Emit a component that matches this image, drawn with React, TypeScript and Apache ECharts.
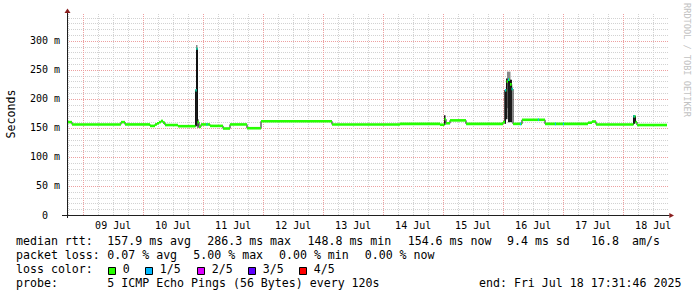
import React, { useEffect, useRef } from 'react';
import * as echarts from 'echarts';

// ---- time axis: hours since 2025-07-08 00:00 ----
const X_MIN = 17 + 31 / 60 + 46 / 3600;
const X_MAX = X_MIN + 240;
const Y_MAX = 348;

const dayLabels = ['09 Jul', '10 Jul', '11 Jul', '12 Jul', '13 Jul', '14 Jul', '15 Jul', '16 Jul', '17 Jul', '18 Jul'];
const dayLabelHours = [36, 60, 84, 108, 132, 156, 180, 204, 228, 252];
const yTickValues = [0, 50, 100, 150, 200, 250, 300];

// median rtt (ms), step series: value holds from hour[i] until hour[i+1]
const medianHours = [17.53, 19.53, 39.13, 40.73, 50.73, 52.73, 53.53, 54.33, 55.13, 55.93, 56.73, 61.93, 68.93, 69.33, 69.73, 70.33, 71.13, 74.73, 79.93, 82.73, 89.53, 95.13, 123.53, 150.73, 166.73, 168.53, 169.13, 170.73, 177.13, 191.93, 192.73, 193.33, 193.93, 194.73, 195.41, 195.93, 199.53, 208.73, 225.93, 227.53, 229.13, 244.13, 244.93, 245.53];
const medianMs = [160, 156, 160, 156, 153.5, 156, 158, 160, 162, 159, 155, 153, 215, 286.3, 160, 152, 156, 153.5, 149, 156, 149.5, 161.5, 156, 157, 155.5, 165, 158, 163, 157, 160, 215, 230, 233, 225, 217, 157, 164, 157, 159, 161, 156, 170, 160, 155];

// columns with 1/5 packet loss: start hour, end hour, median
const lossStart = [68.93, 69.33, 73.3, 192.73, 193.93, 195.41, 198.7, 205.9, 212.7, 215.9, 244.13];
const lossEnd = [69.33, 69.73, 73.7, 193.13, 194.33, 195.81, 199.1, 206.3, 213.1, 216.3, 244.53];
const lossMs = [215, 286.3, 156, 215, 233, 217, 157, 164, 157, 157, 170];

// smoke (ping spread) columns
const smokeStart = [68.73, 69.13, 69.13, 69.73, 168.33, 192.53, 193.53, 193.13, 193.93, 244.0];
const smokeEnd = [69.13, 69.73, 69.73, 70.13, 168.93, 193.13, 194.93, 193.73, 195.53, 244.8];
const smokeLow = [153, 153, 275, 150, 155, 157, 184, 165, 160, 157];
const smokeHigh = [215, 275, 293, 165, 172, 215, 247, 235, 233, 172];
const smokeShade = [0, 0, 1, 0, 0, 0, 1, 0, 0, 0];

// legend
const rttLabel = 'median rtt:';
const rttStats = ['157.9 ms avg', '286.3 ms max', '148.8 ms min', '154.6 ms now', '9.4 ms sd', '16.8', 'am/s'];
const lossLabel = 'packet loss:';
const lossStats = ['0.07 % avg', '5.00 % max', '0.00 % min', '0.00 % now'];
const colorLabel = 'loss color:';
const lossColorNames = ['0', '1/5', '2/5', '3/5', '4/5'];
const lossColors = ['#26ff00', '#00b8ff', '#dd00ff', '#5e00ff', '#ff0000'];
const probeLabel = 'probe:';
const probeText = '5 ICMP Echo Pings (56 Bytes) every 120s';
const endText = 'end: Fri Jul 18 17:31:46 2025';
const yAxisTitle = 'Seconds';
const watermark = 'RRDTOOL / TOBI OETIKER';

// layout (pixels)
const rttX = [107.3, 207.3, 307.5, 407.7, 507, 591, 632];
const lossX = [107.3, 193.3, 279, 364.7];
const boxX = [108.5, 145.5, 197.5, 248.5, 299.5];
const lineY = [240.5, 254.6, 268.7, 282.8];

const MONO = 'DejaVu Sans Mono';
const GRID_GREY = '#d2d2d2';
const GRID_RED = '#eda0a0';
const GREEN = lossColors[0];
const BLUE = lossColors[1];

function buildOption() {
  const gridItems: any[] = [];
  for (let v = 10; v < Y_MAX; v += 10) gridItems.push([0, v]);
  for (let h = 18; h < X_MAX; h += 6) gridItems.push([1, h]);

  const stepData = medianHours.map((h, i) => [h, medianMs[i]]);
  stepData.push([X_MAX, medianMs[medianMs.length - 1]]);
  const bandData = medianHours.map((h, i) => [h, i + 1 < medianHours.length ? medianHours[i + 1] : X_MAX, medianMs[i]]);
  const lossData = lossStart.map((s, i) => [s, lossEnd[i], lossMs[i]]);
  const smokeData = smokeStart.map((s, i) => [s, smokeEnd[i], smokeLow[i], smokeHigh[i], smokeShade[i]]);
  const labelData = dayLabelHours.map((h, i) => [h, 0, i]);

  const graphic: any[] = [];
  const txt = (x: number, y: number, text: string) => ({
    type: 'text', x, y, silent: true,
    style: { text, fontFamily: MONO, fontSize: 11.6, fill: '#000', verticalAlign: 'middle', align: 'left' },
  });
  graphic.push(txt(16, lineY[0], rttLabel));
  rttStats.forEach((s, i) => graphic.push(txt(rttX[i], lineY[0], s)));
  graphic.push(txt(16, lineY[1], lossLabel));
  lossStats.forEach((s, i) => graphic.push(txt(lossX[i], lineY[1], s)));
  graphic.push(txt(16, lineY[2], colorLabel));
  lossColorNames.forEach((s, i) => {
    graphic.push({
      type: 'rect', silent: true,
      shape: { x: boxX[i], y: lineY[2] - 1.2, width: 7, height: 7 },
      style: { fill: lossColors[i], stroke: '#000', lineWidth: 1 },
    });
    graphic.push(txt(boxX[i] + 14.3, lineY[2], s));
  });
  graphic.push(txt(16, lineY[3], probeLabel));
  graphic.push(txt(107.3, lineY[3], probeText));
  graphic.push(txt(479, lineY[3], endText));
  graphic.push({
    type: 'text', x: 11, y: 114, rotation: Math.PI / 2, silent: true,
    style: { text: yAxisTitle, fontFamily: MONO, fontSize: 11.6, fill: '#000', align: 'center', verticalAlign: 'middle' },
  });
  graphic.push({
    type: 'text', x: 687, y: 60, rotation: -Math.PI / 2, silent: true,
    style: { text: watermark, fontFamily: MONO, fontSize: 8.6, fill: '#c2c2c2', align: 'center', verticalAlign: 'middle' },
  });

  return {
    animation: false,
    backgroundColor: '#ffffff',
    grid: { left: 67, top: 13, width: 600, height: 202, containLabel: false },
    xAxis: {
      type: 'value', min: X_MIN, max: X_MAX,
      axisLine: { show: false }, axisTick: { show: false }, axisLabel: { show: false }, splitLine: { show: false },
    },
    yAxis: {
      type: 'value', min: 0, max: Y_MAX, interval: 10,
      axisLine: { show: false }, axisTick: { show: false }, splitLine: { show: false },
      axisLabel: {
        margin: 7, fontFamily: MONO, fontSize: 10, color: '#000',
        formatter: (v: number) => {
          if (!yTickValues.includes(v)) return '';
          if (v === 0) return '{z|0}';
          return v + ' m';
        },
        rich: { z: { fontFamily: MONO, fontSize: 10, color: '#000', padding: [0, 12, 0, 0] } },
      },
    },
    graphic,
    series: [
      {
        type: 'custom', name: 'grid', z: 1, silent: true, data: gridItems,
        renderItem: (params: any, api: any) => {
          const dir = api.value(0);
          const v = api.value(1);
          if (dir === 0) {
            const a = api.coord([X_MIN, v]);
            const b = api.coord([X_MAX, v]);
            const y = Math.round(a[1]) + 0.5;
            return {
              type: 'line', shape: { x1: a[0], y1: y, x2: b[0] + 2, y2: y },
              style: { stroke: v % 50 === 0 ? GRID_RED : GRID_GREY, lineWidth: 1, lineDash: [1, 1] },
            };
          }
          const a = api.coord([v, 0]);
          const b = api.coord([v, Y_MAX]);
          const x = Math.round(a[0]) + 0.5;
          return {
            type: 'line', shape: { x1: x, y1: a[1], x2: x, y2: b[1] },
            style: { stroke: v % 24 === 0 ? GRID_RED : GRID_GREY, lineWidth: 1, lineDash: [1, 1] },
          };
        },
      },
      {
        type: 'custom', name: 'smoke', z: 2, silent: true, data: smokeData,
        renderItem: (params: any, api: any) => {
          const a = api.coord([api.value(0), api.value(3)]);
          const b = api.coord([api.value(1), api.value(2)]);
          return {
            type: 'rect', shape: { x: a[0], y: a[1], width: b[0] - a[0], height: b[1] - a[1] },
            style: { fill: api.value(4) === 1 ? '#8a8a8a' : '#1c1c1c' },
          };
        },
      },
      {
        type: 'line', name: 'median edges', z: 3, silent: true, step: 'end', symbol: 'none',
        data: stepData, lineStyle: { color: '#111', width: 1 },
      },
      {
        type: 'custom', name: 'median', z: 4, silent: true, data: bandData,
        renderItem: (params: any, api: any) => {
          const a = api.coord([api.value(0), api.value(2)]);
          const b = api.coord([api.value(1), api.value(2)]);
          return { type: 'rect', shape: { x: a[0], y: a[1] - 1.3, width: b[0] - a[0], height: 2.6 }, style: { fill: GREEN } };
        },
      },
      {
        type: 'custom', name: 'loss 1/5', z: 5, silent: true, data: lossData,
        renderItem: (params: any, api: any) => {
          const a = api.coord([api.value(0), api.value(2)]);
          const b = api.coord([api.value(1), api.value(2)]);
          return { type: 'rect', shape: { x: a[0], y: a[1] - 1.3, width: b[0] - a[0], height: 2.6 }, style: { fill: BLUE } };
        },
      },
      {
        type: 'custom', name: 'day labels', z: 6, silent: true, data: labelData,
        renderItem: (params: any, api: any) => {
          const p = api.coord([api.value(0), 0]);
          return {
            type: 'text', x: p[0], y: p[1] + 10.3,
            style: { text: dayLabels[api.value(2)], fontFamily: MONO, fontSize: 10, fill: '#000', align: 'center', verticalAlign: 'middle' },
          };
        },
      },
      {
        type: 'custom', name: 'axes', z: 7, silent: true, data: [[X_MIN, X_MAX]],
        renderItem: (params: any, api: any) => {
          const o = api.coord([X_MIN, 0]);
          const r = api.coord([X_MAX, 0]);
          const t = api.coord([X_MIN, Y_MAX]);
          const ox = Math.round(o[0]) + 0.5;
          const oy = Math.round(o[1]) + 0.5;
          return {
            type: 'group',
            children: [
              { type: 'line', shape: { x1: o[0] - 5, y1: oy, x2: r[0] + 2.5, y2: oy }, style: { stroke: '#1f1f1f', lineWidth: 1 } },
              { type: 'line', shape: { x1: ox, y1: o[1] + 3, x2: ox, y2: t[1] }, style: { stroke: '#1f1f1f', lineWidth: 1 } },
              { type: 'polygon', shape: { points: [[r[0] + 2.3, oy - 2.6], [r[0] + 7, oy], [r[0] + 2.3, oy + 2.6]] }, style: { fill: '#8a1f1f' } },
              { type: 'polygon', shape: { points: [[ox - 3, t[1]], [ox, t[1] - 4.5], [ox + 3, t[1]]] }, style: { fill: '#8a1f1f' } },
            ],
          };
        },
      },
    ],
  };
}

export default function App() {
  const ref = useRef<HTMLDivElement>(null);
  useEffect(() => {
    const chart = echarts.init(ref.current!, null, { renderer: 'svg' });
    chart.setOption(buildOption() as any);
    return () => chart.dispose();
  }, []);
  return <div ref={ref} style={{ position: 'fixed', left: 0, top: 0, width: 697, height: 297, background: '#fff' }} />;
}
